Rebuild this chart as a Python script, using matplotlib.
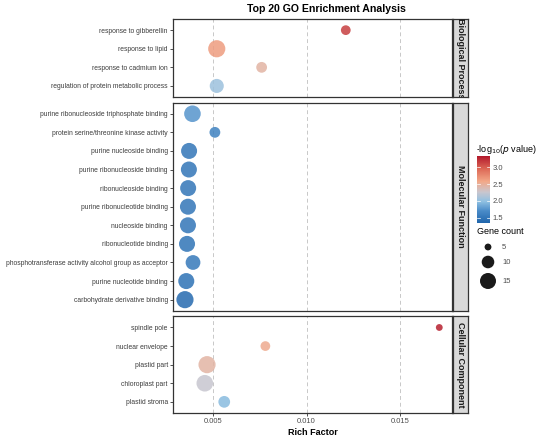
import numpy as np
import matplotlib
matplotlib.use("Agg")
import matplotlib.pyplot as plt
from matplotlib.colors import LinearSegmentedColormap, Normalize

plt.rcParams['font.family'] = ['Liberation Sans', 'DejaVu Sans']

# data (top to bottom inside each panel)
bp_terms = ["response to gibberellin", "response to lipid", "response to cadmium ion",
            "regulation of protein metabolic process"]
bp_rich = [0.0121, 0.0052, 0.0076, 0.0052]
bp_count = [7, 17, 8, 12]
bp_logp = [3.15, 2.65, 2.45, 2.05]

mf_terms = ["purine ribonucleoside triphosphate binding", "protein serine/threonine kinase activity",
            "purine nucleoside binding", "purine ribonucleoside binding", "ribonucleoside binding",
            "purine ribonucleotide binding", "nucleoside binding", "ribonucleotide binding",
            "phosphotransferase activity alcohol group as acceptor", "purine nucleotide binding",
            "carbohydrate derivative binding"]
mf_rich = [0.0039, 0.0051, 0.00372, 0.00371, 0.00367, 0.00366, 0.00366, 0.00361, 0.00393, 0.00357, 0.0035]
mf_count = [16, 8, 15, 15, 15, 15, 15, 15, 13, 15, 17]
mf_logp = [1.75, 1.6, 1.5, 1.5, 1.5, 1.5, 1.5, 1.48, 1.52, 1.46, 1.38]

cc_terms = ["spindle pole", "nuclear envelope", "plastid part", "chloroplast part", "plastid stroma"]
cc_rich = [0.0171, 0.0078, 0.00468, 0.00456, 0.0056]
cc_count = [5, 7, 17, 16, 9]
cc_logp = [3.3, 2.55, 2.45, 2.25, 1.95]

facets = ["Biological Process", "Molecular Function", "Cellular Component"]
x_ticks = [0.005, 0.010, 0.015]
legend_counts = [5, 10, 15]
cbar_ticks = [1.5, 2.0, 2.5, 3.0]

groups = [(bp_terms, bp_rich, bp_count, bp_logp),
          (mf_terms, mf_rich, mf_count, mf_logp),
          (cc_terms, cc_rich, cc_count, cc_logp)]

cmap = LinearSegmentedColormap.from_list(
    "gorb", [(0.0, "#2166AC"), (0.18, "#4A8BC8"), (0.32, "#8FC0E2"), (0.46, "#C9C6CE"),
             (0.62, "#F2A888"), (0.8, "#DE6B58"), (1.0, "#B2182B")])
norm = Normalize(vmin=1.34, vmax=3.34)


def dot_size(c):
    # ggplot-like area scale, returns marker area in pt^2
    c = np.asarray(c, dtype=float)
    d_px = 2.86 * (1 + 5 * np.sqrt(np.clip((c - 4) / 13.0, 0, 1)))
    return (d_px * 0.72) ** 2


W, H = 550, 440
fig = plt.figure(figsize=(5.5, 4.4), dpi=100)

left, right = 173, 452
top, gap = 19, 5.5
units = [len(g[0]) + 0.2 for g in groups]
unit_px = (413 - top - 2 * gap) / sum(units)

y_px = top
for i, (terms, rich, count, logp) in enumerate(groups):
    h = units[i] * unit_px
    ax = fig.add_axes([left / W, 1 - (y_px + h) / H, (right - left) / W, h / H])
    n = len(terms)
    ypos = np.arange(n)[::-1]
    for xv in x_ticks:
        ax.axvline(xv, color="#C8C8C8", lw=0.7, ls=(0, (4, 3)), zorder=0)
    ax.scatter(rich, ypos, s=dot_size(count), c=logp, cmap=cmap, norm=norm,
               alpha=0.85, edgecolors="none", zorder=3)
    ax.set_xlim(0.00286, 0.01778)
    ax.set_ylim(-0.6, n - 1 + 0.6)
    ax.set_yticks(ypos)
    ax.set_yticklabels(terms, fontsize=4.85, color="#3D3D3D")
    ax.set_xticks(x_ticks)
    ax.tick_params(axis="both", length=2.2, width=0.6, color="#333333", pad=1.5)
    if i < 2:
        ax.tick_params(axis="x", labelbottom=False, length=0)
    else:
        ax.set_xticklabels(["0.005", "0.010", "0.015"], fontsize=5.5, color="#4D4D4D")
        ax.set_xlabel("Rich Factor", fontsize=6.5, fontweight="bold", labelpad=2)
    for sp in ax.spines.values():
        sp.set_color("#333333")
        sp.set_linewidth(0.9)

    # facet strip
    sax = fig.add_axes([453 / W, 1 - (y_px + h) / H, 15 / W, h / H])
    sax.set_facecolor("#D9D9D9")
    sax.set_xticks([])
    sax.set_yticks([])
    for sp in sax.spines.values():
        sp.set_color("#333333")
        sp.set_linewidth(0.9)
    sax.text(0.5, 0.5, facets[i], rotation=-90, ha="center", va="center",
             fontsize=6.5, fontweight="bold", color="#1A1A1A",
             transform=sax.transAxes, clip_on=True)
    y_px += h + gap

fig.text(326 / W, 1 - 9 / H, "Top 20 GO Enrichment Analysis", ha="center", va="center",
         fontsize=7.6, fontweight="bold")

# colour bar
cax = fig.add_axes([477 / W, 1 - 223 / H, 13 / W, 67 / H])
sm = plt.cm.ScalarMappable(norm=norm, cmap=cmap)
cb = fig.colorbar(sm, cax=cax, ticks=cbar_ticks)
cb.outline.set_visible(False)
cb.ax.tick_params(length=0, labelsize=5.5, labelcolor="#4D4D4D", pad=2)
cb.ax.set_yticklabels(["1.5", "2.0", "2.5", "3.0"])
for t in cbar_ticks:
    cax.plot([0, 0.2], [t, t], color="white", lw=0.5)
    cax.plot([0.8, 1], [t, t], color="white", lw=0.5)
fig.text(476 / W, 1 - 149 / H, r"-log$_{10}$($\it{p}$ value)", fontsize=6.5, va="center", ha="left")

# size legend
fig.text(477 / W, 1 - 232 / H, "Gene count", fontsize=6.5, va="center", ha="left")
lax = fig.add_axes([470 / W, 1 - 295 / H, 80 / W, 55 / H])
lax.set_xlim(470, 550)
lax.set_ylim(295, 240)
lax.axis("off")
leg_y = [247, 262, 281]
lax.scatter([488] * 3, leg_y, s=dot_size(legend_counts), color="#1A1A1A", edgecolors="none")
for yv, c in zip(leg_y, legend_counts):
    lax.text(502, yv, str(c), fontsize=5.5, color="#4D4D4D", va="center", ha="left")

fig.savefig("out.png", dpi=100, facecolor="white")
